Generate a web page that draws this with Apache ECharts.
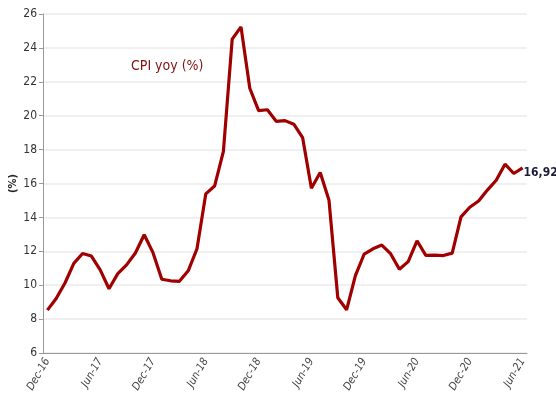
<!DOCTYPE html>
<html>
<head>
<meta charset="utf-8">
<script src="https://cdn.jsdelivr.net/npm/echarts@6/dist/echarts.min.js"></script>
<style>
  html, body { margin: 0; padding: 0; background: #fff; }
  #chart { width: 556px; height: 405px; }
</style>
</head>
<body>
<div id="chart"></div>
<script>
const months = [
  'Dec-16',
  'Jan-17', 'Feb-17', 'Mar-17', 'Apr-17', 'May-17', 'Jun-17', 'Jul-17', 'Aug-17', 'Sep-17', 'Oct-17', 'Nov-17', 'Dec-17',
  'Jan-18', 'Feb-18', 'Mar-18', 'Apr-18', 'May-18', 'Jun-18', 'Jul-18', 'Aug-18', 'Sep-18', 'Oct-18', 'Nov-18', 'Dec-18',
  'Jan-19', 'Feb-19', 'Mar-19', 'Apr-19', 'May-19', 'Jun-19', 'Jul-19', 'Aug-19', 'Sep-19', 'Oct-19', 'Nov-19', 'Dec-19',
  'Jan-20', 'Feb-20', 'Mar-20', 'Apr-20', 'May-20', 'Jun-20', 'Jul-20', 'Aug-20', 'Sep-20', 'Oct-20', 'Nov-20', 'Dec-20',
  'Jan-21', 'Feb-21', 'Mar-21', 'Apr-21', 'May-21', 'Jun-21'
];

const cpiYoy = [
  8.53,
  9.22, 10.13, 11.29, 11.87, 11.72, 10.90, 9.79, 10.68, 11.20, 11.90, 12.98, 11.92,
  10.35, 10.26, 10.23, 10.85, 12.15, 15.39, 15.85, 17.90, 24.52, 25.24, 21.62, 20.30,
  20.35, 19.67, 19.71, 19.50, 18.71, 15.72, 16.65, 15.01, 9.26, 8.55, 10.56, 11.84,
  12.15, 12.37, 11.86, 10.94, 11.39, 12.62, 11.76, 11.77, 11.75, 11.89, 14.03, 14.60,
  14.97, 15.61, 16.19, 17.14, 16.59, 16.92
];

const lastLabel = '16,92';

const chart = echarts.init(document.getElementById('chart'));
const font = "'DejaVu Sans Condensed', 'Liberation Sans Narrow', sans-serif";

chart.setOption({
  animation: false,
  textStyle: { fontFamily: font },
  title: {
    text: 'CPI yoy (%)',
    left: 126,
    top: 54,
    textStyle: { color: '#7f1212', fontSize: 14, fontWeight: 'normal', fontFamily: font }
  },
  grid: { left: 43, right: 29, top: 14, bottom: 52, containLabel: false, outerBoundsMode: 'none' },
  xAxis: {
    type: 'category',
    data: months,
    boundaryGap: true,
    axisLine: { lineStyle: { color: '#999' } },
    axisTick: { interval: 5, length: 4, lineStyle: { color: '#999' } },
    axisLabel: {
      interval: 5,
      rotate: 60,
      margin: 6,
      color: '#444',
      fontSize: 11,
      fontStyle: 'italic',
      fontFamily: font
    },
    splitLine: { show: false }
  },
  yAxis: {
    type: 'value',
    min: 6,
    max: 26,
    interval: 2,
    name: '(%)',
    nameLocation: 'middle',
    nameRotate: 90,
    nameGap: 24,
    nameMoveOverlap: false,
    nameTextStyle: { color: '#222', fontSize: 11, fontWeight: 'bold', fontFamily: font },
    axisLine: { show: true, lineStyle: { color: '#999' } },
    axisTick: { show: true, length: 4, lineStyle: { color: '#999' } },
    axisLabel: { color: '#333', fontSize: 12, margin: 6, fontFamily: font },
    splitLine: { lineStyle: { color: '#ebebeb', width: 1.5 } }
  },
  series: [{
    name: 'CPI yoy (%)',
    type: 'line',
    data: cpiYoy,
    symbol: 'none',
    lineStyle: { color: '#a00000', width: 3.2 },
    endLabel: {
      show: true,
      formatter: lastLabel,
      distance: 1,
      offset: [0, 5],
      color: '#1c1c3a',
      fontSize: 12,
      fontWeight: 'bold',
      fontFamily: font
    }
  }]
});
</script>
</body>
</html>
